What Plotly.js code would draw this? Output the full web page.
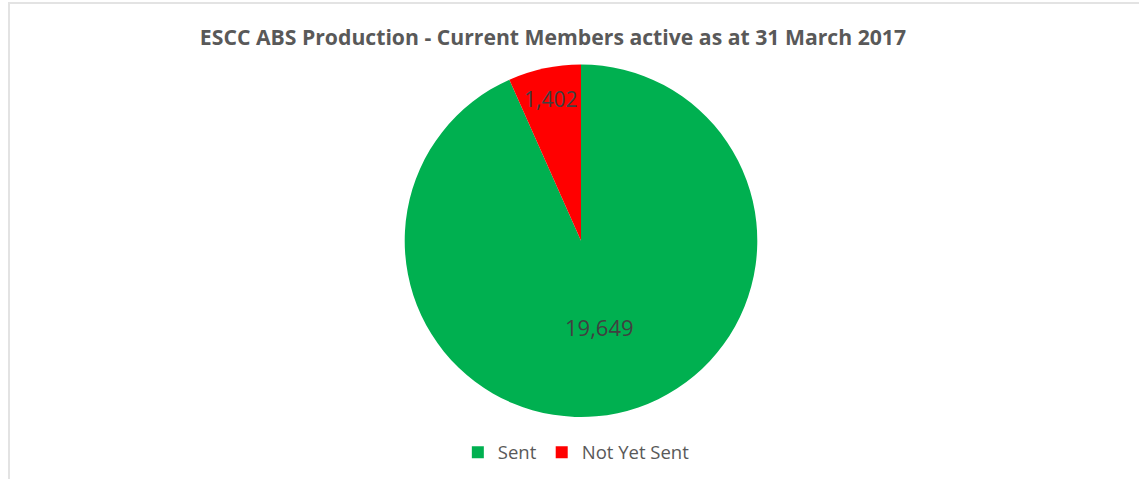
<!DOCTYPE html>
<html><head><meta charset="utf-8">
<script src="https://cdn.plot.ly/plotly-3.0.1.min.js"></script>
<style>
html,body{margin:0;padding:0;background:#fff;}
#frame{position:absolute;left:8px;top:2px;width:1200px;height:600px;border-left:2px solid #e3e3e3;border-top:2px solid #e3e3e3;box-sizing:border-box;}
#chart{position:absolute;left:0;top:0;width:1139px;height:479px;}
</style></head>
<body>
<div id="frame"></div>
<div id="chart"></div>
<script>
const categories = ["Sent", "Not Yet Sent"];
const values = [19649, 1402];
const colors = ["#00B050", "#FF0000"];
const titleText = "ESCC ABS Production - Current Members active as at 31 March 2017";

const trace = {
  type: "pie",
  labels: categories,
  values: values,
  sort: false,
  direction: "clockwise",
  rotation: 0,
  marker: {colors: colors, line: {width: 0}},
  textinfo: "value",
  texttemplate: "%{value:,}",
  textposition: "inside",
  insidetextorientation: "horizontal",
  textfont: {family: "Open Sans, Liberation Sans, sans-serif", size: 22, color: "#404040"},
  domain: {x: [0.3547, 0.6655], y: [0.1294, 0.8655]},
  hoverinfo: "label+value"
};

const layout = {
  width: 1139, height: 479,
  margin: {l: 0, r: 0, t: 0, b: 0},
  paper_bgcolor: "rgba(0,0,0,0)",
  plot_bgcolor: "rgba(0,0,0,0)",
  title: {text: "<b>" + titleText + "</b>", x: 0.4855, xanchor: "center", y: 0.921, yanchor: "middle",
          font: {family: "Open Sans, Liberation Sans, sans-serif", size: 21.2, color: "#595959"}},
  showlegend: true,
  legend: {orientation: "h", x: 0.506, xanchor: "center", y: 0.055, yanchor: "middle",
           font: {family: "Open Sans, Liberation Sans, sans-serif", size: 18.5, color: "#595959"},
           traceorder: "normal"}
};

Plotly.newPlot("chart", [trace], layout, {staticPlot: true});
</script>
</body></html>
